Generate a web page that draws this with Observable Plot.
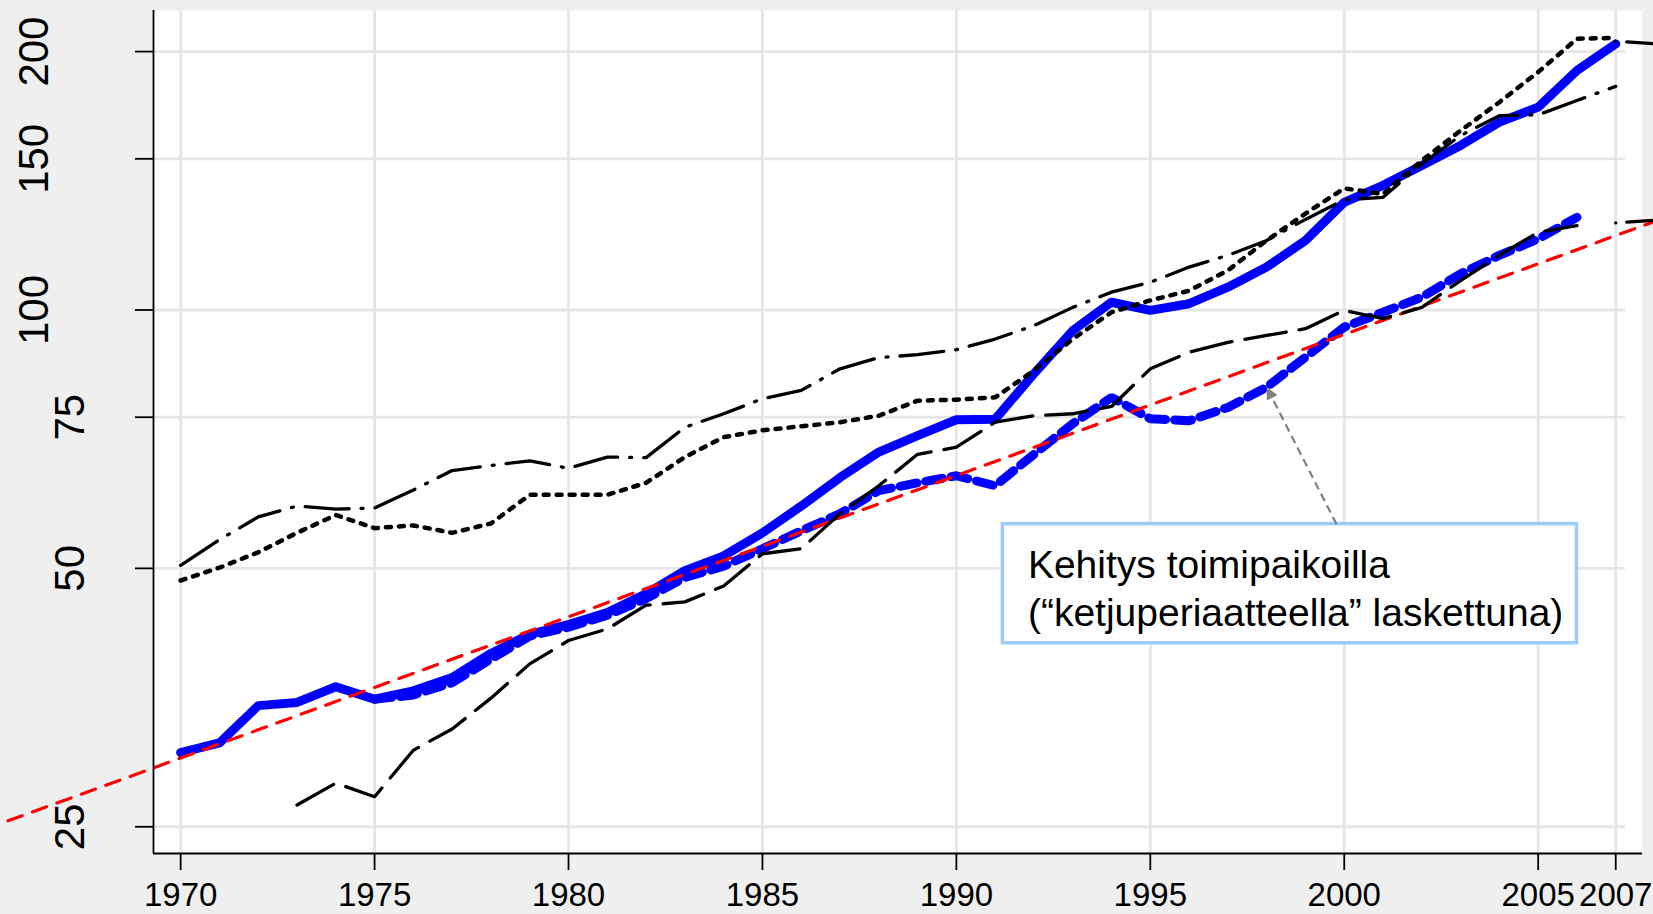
<!DOCTYPE html>
<html>
<head>
<meta charset="utf-8">
<script src="https://cdn.jsdelivr.net/npm/d3@7"></script>
<script src="https://cdn.jsdelivr.net/npm/@observablehq/plot@0.6"></script>
<style>
  html, body { margin: 0; padding: 0; background: #efefef; }
  #chart { width: 1653px; height: 914px; overflow: hidden; }
</style>
</head>
<body>
<div id="chart"></div>
<script>
// ---------- data ----------
const xTicks = [1970, 1975, 1980, 1985, 1990, 1995, 2000, 2005, 2007];
const yTicks = [25, 50, 75, 100, 150, 200];

// solid blue, 1970–2007
const solidStart = 1970;
const solidBlue = [30.5, 31.3, 34.6, 34.9, 36.4, 35.2, 36.0, 37.3, 39.8, 41.9,
                   43.0, 44.4, 46.7, 49.7, 51.7, 55.0, 59.1, 63.8, 68.3, 71.4,
                   74.5, 74.6, 84.3, 94.6, 102.1, 99.9, 101.7, 106.3, 112.2, 120.5,
                   133.5, 139.7, 147.3, 155.5, 165.5, 172.3, 190.1, 204.2];

// dashed blue ("ketjuperiaatteella"), 1975–2006
const dashedStart = 1975;
const dashedBlue = [35.2, 35.6, 36.8, 39.2, 41.7,
                    42.7, 44.1, 46.1, 48.8, 50.3, 52.7, 55.3, 57.9, 61.6, 62.9,
                    64.1, 62.4, 67.9, 73.7, 79.1, 74.7, 74.3, 77.0, 81.3, 88.1,
                    95.5, 99.4, 103.5, 110.2, 115.8, 121.0, 128.2];

// black long dash, 1973–2006
const longDashStart = 1973;
const longDash = [26.5, 28.1, 27.1, 30.7, 32.5, 35.3, 38.7,
                  41.2, 42.5, 45.3, 45.7, 47.7, 52.0, 52.7, 57.9, 62.4, 67.9,
                  69.2, 74.0, 75.3, 75.7, 77.2, 85.4, 89.3, 91.7, 93.4, 95.1,
                  99.9, 97.7, 100.7, 108.2, 115.8, 123.2, 125.4];

// black long dash continuations, 2007–2008
const contYears = [2007, 2008];
const contUpper = [205.6, 204.3];
const contLower = [126.3, 127.2];

// black dash-dot, 1970–2007
const dashDotStart = 1970;
const dashDot = [50.4, 54.0, 57.4, 59.1, 58.6, 58.8, 61.7, 65.0, 65.9, 66.7,
                 65.4, 67.4, 67.3, 73.0, 75.7, 78.8, 80.6, 85.4, 88.0, 88.7,
                 89.9, 92.5, 95.9, 100.7, 104.9, 107.7, 112.2, 115.8, 120.5, 127.5,
                 134.4, 135.3, 148.0, 159.7, 168.4, 168.8, 175.4, 182.2];

// black dotted, 1970–2007
const dottedStart = 1970;
const dotted = [48.4, 50.1, 52.2, 55.0, 57.7, 55.7, 56.1, 55.0, 56.4, 60.9,
                60.9, 60.9, 62.9, 67.4, 71.1, 72.4, 73.2, 74.0, 75.3, 78.4,
                78.6, 79.1, 85.0, 92.5, 99.4, 102.6, 105.3, 111.2, 120.5, 129.5,
                138.6, 136.5, 149.3, 161.8, 174.6, 189.3, 207.0, 207.5];

// red dashed trend (exponential, straight on the log axis)
const trendYears = [1965.55, 2008];
const trendValues = [25.4, 126.8];

// annotation
const noteText = "Kehitys toimipaikoilla\n(\u201Cketjuperiaatteella\u201D laskettuna)";
const noteYear = 1998; // arrow points at the dashed series in this year

// ---------- layout ----------
const xDomain = [1969.3, 2007.69];
const yDomain = [23.27, 223.3];
const gridEnd = 2007.25;
const noteBox = {x1: 1991.2, x2: 2006.0, y1: 40.9, y2: 56.3};
const arrowTail = {x: 1999.8, y: 56.3};
const arrowGray = "#808080";

const toRows = (start, vals) => vals.map((v, i) => ({year: start + i, value: v}));
const pairRows = (yrs, vals) => vals.map((v, i) => ({year: yrs[i], value: v}));

const solidRows = toRows(solidStart, solidBlue);
const dashedRows = toRows(dashedStart, dashedBlue);
const longRows = toRows(longDashStart, longDash);
const ddRows = toRows(dashDotStart, dashDot);
const dotRows = toRows(dottedStart, dotted);
const trendRows = pairRows(trendYears, trendValues);
const arrowTip = dashedRows.find(d => d.year === noteYear);

const font = "'Liberation Sans', Arial, Helvetica, sans-serif";

const chart = Plot.plot({
  width: 1653,
  height: 914,
  marginLeft: 153,
  marginRight: 11,
  marginTop: 10,
  marginBottom: 61,
  style: {background: "transparent", fontFamily: font, maxWidth: "none", overflow: "visible"},
  x: {domain: xDomain, axis: null},
  y: {type: "log", domain: yDomain, axis: null},
  marks: [
    Plot.frame({fill: "white", stroke: "none"}),
    Plot.ruleX(xTicks, {stroke: "#e6e6e6", strokeWidth: 2.8}),
    Plot.ruleY(yTicks, {x1: xDomain[0], x2: gridEnd, stroke: "#e6e6e6", strokeWidth: 2.8}),

    Plot.line(dashedRows, {x: "year", y: "value", stroke: "#0000ff", strokeWidth: 9,
      strokeDasharray: "17,9", strokeLinejoin: "miter"}),
    Plot.line(solidRows, {x: "year", y: "value", stroke: "#0000ff", strokeWidth: 9,
      strokeLinejoin: "round"}),
    Plot.line(trendRows, {x: "year", y: "value", stroke: "#ff0000", strokeWidth: 3.2,
      strokeDasharray: "15,11"}),
    Plot.line(longRows, {x: "year", y: "value", stroke: "black", strokeWidth: 3.3,
      strokeDasharray: "42,13"}),
    Plot.line(pairRows(contYears, contUpper), {x: "year", y: "value", stroke: "black", strokeWidth: 3.3,
      strokeDasharray: "0,11,42,13"}),
    Plot.line(pairRows(contYears, contLower), {x: "year", y: "value", stroke: "black", strokeWidth: 3.3,
      strokeDasharray: "0,11,42,13"}),
    Plot.line(ddRows, {x: "year", y: "value", stroke: "black", strokeWidth: 3.3,
      strokeDasharray: "44,12,2,12"}),
    Plot.line(dotRows, {x: "year", y: "value", stroke: "black", strokeWidth: 4.5,
      strokeDasharray: "5,8"}),

    // axis lines
    Plot.ruleX([xDomain[0]], {stroke: "black", strokeWidth: 1.8}),
    Plot.ruleY([yDomain[0]], {stroke: "black", strokeWidth: 1.8}),

    // x axis
    Plot.axisX(xTicks, {anchor: "bottom", tickSize: 17, tickPadding: 12, fontSize: 33,
      strokeWidth: 1.8, label: null, tickFormat: d => String(d), fill: "black"}),
    // y axis ticks
    Plot.axisY(yTicks, {anchor: "left", tickSize: 18, strokeWidth: 1.8, label: null,
      tickFormat: () => ""}),
    // y labels, rotated
    Plot.text(yTicks.filter(d => d >= 100), {x: xDomain[0], y: d => d, text: d => String(d),
      rotate: -90, textAnchor: "middle", lineAnchor: "bottom", fontSize: 42, dx: -106, fill: "black"}),
    Plot.text(yTicks.filter(d => d < 100), {x: xDomain[0], y: d => d, text: d => String(d),
      rotate: -90, textAnchor: "middle", lineAnchor: "bottom", fontSize: 42, dx: -70, fill: "black"}),

    // annotation
    Plot.rect([noteBox], {x1: "x1", x2: "x2", y1: "y1", y2: "y2", fill: "white",
      stroke: "#9ccbfa", strokeWidth: 3.5}),
    Plot.text([noteBox], {x: "x1", y: "y2", text: () => noteText, textAnchor: "start",
      lineAnchor: "top", dx: 25, dy: 20, fontSize: 39, lineHeight: 1.23, fill: "black"}),
    Plot.link([{x1: arrowTail.x, y1: arrowTail.y, x2: arrowTip.year, y2: arrowTip.value}],
      {x1: "x1", y1: "y1", x2: "x2", y2: "y2", stroke: arrowGray, strokeWidth: 2.2,
       strokeDasharray: "8,5"})
  ]
});

// filled arrowhead for the annotation arrow
const svg = d3.select(chart);
const defs = svg.insert("defs", ":first-child");
defs.append("marker")
  .attr("id", "note-arrowhead")
  .attr("viewBox", "0 0 10 10")
  .attr("refX", 10).attr("refY", 5)
  .attr("markerUnits", "userSpaceOnUse")
  .attr("markerWidth", 14).attr("markerHeight", 12)
  .attr("orient", "auto")
  .append("path").attr("d", "M0,0L10,5L0,10Z").attr("fill", arrowGray).attr("stroke", "none");
svg.selectAll("path").filter(function () {
  const own = this.getAttribute("stroke");
  const parent = this.parentNode && this.parentNode.getAttribute && this.parentNode.getAttribute("stroke");
  return (own === arrowGray || parent === arrowGray) && !this.closest("marker");
}).attr("marker-end", "url(#note-arrowhead)");

document.getElementById("chart").appendChild(chart);
</script>
</body>
</html>
